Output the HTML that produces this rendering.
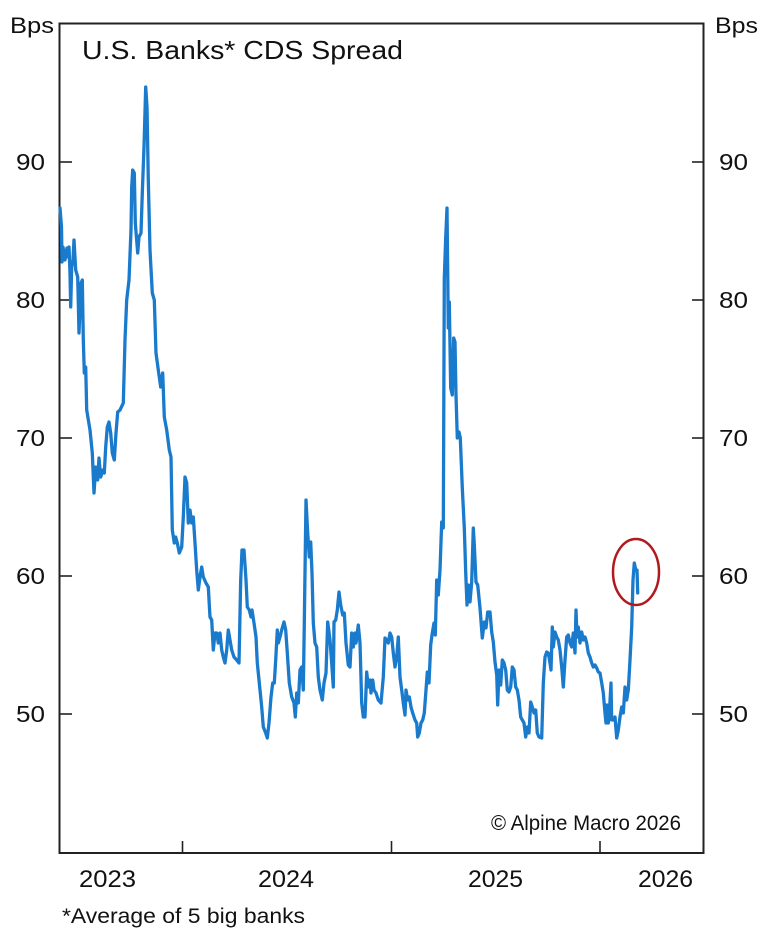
<!DOCTYPE html>
<html>
<head>
<meta charset="utf-8">
<style>
  html,body{margin:0;padding:0;background:#fff;}
  svg{display:block;}
  text{font-family:"Liberation Sans",Arial,sans-serif;fill:#111;}
</style>
</head>
<body>
<svg width="768" height="933" viewBox="0 0 768 933" xmlns="http://www.w3.org/2000/svg">
  <rect x="0" y="0" width="768" height="933" fill="#fff"/>
  <!-- frame -->
  <rect x="59.5" y="23.5" width="644" height="829.5" fill="none" stroke="#222" stroke-width="2"/>
  <!-- ticks -->
  <g stroke="#222" stroke-width="1.6">
    <line x1="60" y1="162" x2="72" y2="162"/>
    <line x1="60" y1="300" x2="72" y2="300"/>
    <line x1="60" y1="438" x2="72" y2="438"/>
    <line x1="60" y1="576" x2="72" y2="576"/>
    <line x1="60" y1="714" x2="72" y2="714"/>
    <line x1="692" y1="162" x2="703" y2="162"/>
    <line x1="692" y1="300" x2="703" y2="300"/>
    <line x1="692" y1="438" x2="703" y2="438"/>
    <line x1="692" y1="576" x2="703" y2="576"/>
    <line x1="692" y1="714" x2="703" y2="714"/>
    <line x1="182.5" y1="841" x2="182.5" y2="853"/>
    <line x1="391.5" y1="841" x2="391.5" y2="853"/>
    <line x1="600" y1="841" x2="600" y2="853"/>
  </g>
  <!-- axis labels -->
  <text x="10" y="33" font-size="22" textLength="44" lengthAdjust="spacingAndGlyphs">Bps</text>
  <text x="715" y="33" font-size="22" textLength="43" lengthAdjust="spacingAndGlyphs">Bps</text>
  <text x="82" y="59" font-size="26" textLength="321" lengthAdjust="spacingAndGlyphs">U.S. Banks* CDS Spread</text>

  <g font-size="23">
    <text x="16" y="170" textLength="29" lengthAdjust="spacingAndGlyphs">90</text>
    <text x="16" y="308" textLength="29" lengthAdjust="spacingAndGlyphs">80</text>
    <text x="16" y="446" textLength="29" lengthAdjust="spacingAndGlyphs">70</text>
    <text x="16" y="584" textLength="29" lengthAdjust="spacingAndGlyphs">60</text>
    <text x="16" y="722" textLength="29" lengthAdjust="spacingAndGlyphs">50</text>
    <text x="719" y="170" textLength="29" lengthAdjust="spacingAndGlyphs">90</text>
    <text x="719" y="308" textLength="29" lengthAdjust="spacingAndGlyphs">80</text>
    <text x="719" y="446" textLength="29" lengthAdjust="spacingAndGlyphs">70</text>
    <text x="719" y="584" textLength="29" lengthAdjust="spacingAndGlyphs">60</text>
    <text x="719" y="722" textLength="29" lengthAdjust="spacingAndGlyphs">50</text>
  </g>
  <g font-size="24">
    <text x="79" y="887" textLength="57" lengthAdjust="spacingAndGlyphs">2023</text>
    <text x="258" y="887" textLength="56" lengthAdjust="spacingAndGlyphs">2024</text>
    <text x="468" y="887" textLength="55" lengthAdjust="spacingAndGlyphs">2025</text>
    <text x="638" y="887" textLength="55" lengthAdjust="spacingAndGlyphs">2026</text>
  </g>
  <text x="491" y="830" font-size="21" textLength="190" lengthAdjust="spacingAndGlyphs">© Alpine Macro 2026</text>
  <text x="62" y="923" font-size="21" textLength="243" lengthAdjust="spacingAndGlyphs">*Average of 5 big banks</text>

  <!-- series -->
  <polyline fill="none" stroke="#1a7acb" stroke-width="3.3" stroke-linejoin="round" stroke-linecap="round" points="
60,208 61.5,227 62,262 63,247 65,260 67,248 68,257 69,247 70,273 70.7,307 71.7,267 73,260 74,240 75.7,270 77.7,277 79,333 81,283 82.3,280 83.3,340 84.3,373 85.7,367 86.7,410 90,430 92.3,453 94,493 95.7,467 97.7,480 99,458 100.7,477 102.7,470 104.3,473 105.7,447 107.3,427 109,422 110.7,433 112.3,453 114.3,460 116,433 117.7,412 120,410 123.3,403 125,340 126.7,300 129,280 131,230 131.7,187 132.7,170 134.3,173 135.3,223 137.7,253 139,237 141,233 142.3,193 144,147 145.7,87 147,107 148.3,180 150,250 152.3,293 154.3,300 156,353 158.3,370 160.7,387 162.7,373 164.3,417 166.7,430 169.3,450 171,457 172.3,530 174.3,543 175.7,537 177.3,543 179.3,553 181.7,547 183.3,517 185,477 186.7,483 188.3,523 190,510 191.7,523 193.3,517 195,543 196.7,570 198.3,590 200,577 201.7,567 203.3,577 206,583 208.3,587 210,617 211.7,620 213.3,650 215,633 216.7,633 218.3,643 220,633 221.7,650 223.3,657 225,663 226.7,650 228.3,630 230,640 231.7,650 234,657 236.7,660 239,663 240.7,580 242,550 244,550 246,580 247.3,607 249.3,610 251,617 252,610 254,623 256,637 257.3,663 259.3,683 261.7,707 263.3,727 265.7,733 267.3,738 269,723 271,697 272.7,683 274.3,683 275.7,660 277.3,630 278.3,643 280,637 281.7,630 284,622 285.7,630 287.3,653 289.3,683 291.7,697 294,703 295.3,717 296.7,693 298.3,703 300,670 301.7,667 303.3,690 304.3,623 306,500 307.7,533 309.3,557 310.7,542 312,573 313.3,623 315,643 316.7,647 318.3,677 320,690 322.3,700 324,683 326,673 327.7,622 330,640 331.7,663 333.3,687 334,622 335.7,620 337.3,610 339,592 340.7,605 342.7,615 344.3,613 346,643 348.3,665 350,667 351.7,633 353.3,647 355,633 356,643 358.3,625 360,643 361.7,703 363.3,717 365,717 366.7,672 368.3,687 370,680 371,693 372.7,680 374,690 376,693 378.3,700 381,703 383.3,677 385,638 386.7,640 388.3,643 390,633 391.7,637 393.3,653 395,667 396.7,657 398.3,637 400,677 401.7,690 403.3,703 405,715 406,690 407.7,700 409.3,697 411,707 412.7,713 415,720 416.7,723 417.7,737 419.3,733 421,723 422.7,720 424.3,713 426,690 427.3,672 429,683 430.7,645 432.3,633 434,623 435.3,635 436.7,580 438.3,595 440,570 441.7,522 443.3,528 444.3,278 445.7,238 447,208 448.3,328 449.3,302 450.7,388 452.3,395 453.7,338 455,342 456,395 457.3,438 459,432 460.3,438 462.3,488 464.3,528 465.7,572 467,605 468.3,585 470,602 471.7,582 473.3,528 474.3,545 476,582 477.7,585 480,608 482.3,638 484.3,622 486,628 487.7,612 490,612 491.7,632 493.3,642 495,662 496.7,675 497.7,705 499,670 500.7,685 502.3,660 504,663 505.7,670 507.3,690 509,692 510.7,687 512.3,667 514,670 515.7,687 517.3,690 519,700 520.7,717 522.3,720 524,723 525.7,737 527.3,727 529,733 530.7,702 532.3,707 534,713 535.7,710 537.3,733 539,737 541.7,738 543.3,683 545,657 546.7,652 548.3,653 550,663 551,670 552.3,627 553.3,647 555,632 556.7,637 558.3,640 560,650 561.7,667 563.3,687 565,660 566.7,637 568.3,635 570,643 571.7,647 573.3,633 575,653 576,610 577,637 578.3,627 580,643 581.7,632 583.3,640 585,637 586.7,643 588.3,653 590,657 591.7,663 593.3,667 595,665 596.7,668 598.3,672 600,673 601.7,683 603.3,693 605,713 606,723 607,705 608.3,723 609.7,707 611,683 611.7,720 613.3,720 615,717 616.7,738 618.3,730 620,717 621.7,707 623.3,713 625,687 626.7,700 628.3,690 630,660 631.7,627 633,580 634.3,563 635.7,570 637,570 637.7,593"/>
  <!-- red highlight ellipse -->
  <ellipse cx="636" cy="572" rx="23" ry="33" fill="none" stroke="#b01a1e" stroke-width="2.5"/>
</svg>
</body>
</html>
